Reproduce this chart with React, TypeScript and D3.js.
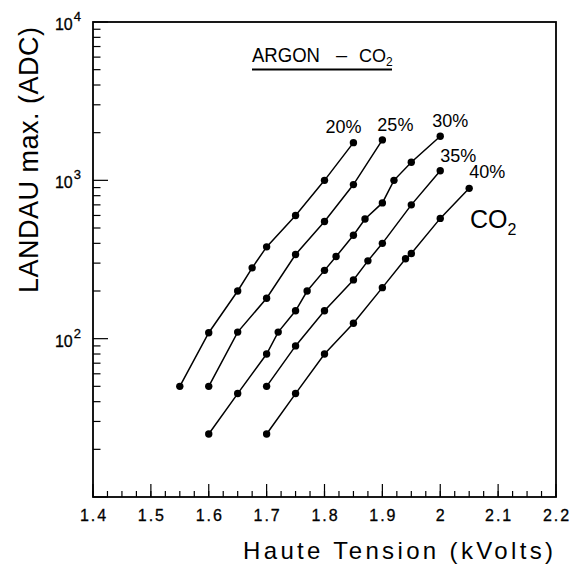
import React from "react";
import * as d3 from "d3";

// ---- data ----
const seriesNames = ["20%", "25%", "30%", "35%", "40%"];
const x20 = [1.55, 1.6, 1.65, 1.675, 1.7, 1.75, 1.8, 1.85];
const y20 = [50, 109, 200, 280, 380, 600, 1000, 1730];
const x25 = [1.6, 1.65, 1.7, 1.75, 1.8, 1.85, 1.9];
const y25 = [50, 110, 180, 340, 550, 940, 1800];
const x30 = [1.6, 1.65, 1.7, 1.72, 1.75, 1.77, 1.8, 1.82, 1.85, 1.87, 1.9, 1.92, 1.95, 2.0];
const y30 = [25, 45, 80, 110, 150, 200, 270, 330, 450, 570, 720, 1000, 1300, 1900];
const x35 = [1.7, 1.75, 1.8, 1.85, 1.875, 1.9, 1.95, 2.0];
const y35 = [50, 90, 150, 235, 310, 400, 700, 1150];
const x40 = [1.7, 1.75, 1.8, 1.85, 1.9, 1.94, 1.95, 2.0, 2.05];
const y40 = [25, 45, 80, 125, 210, 320, 345, 575, 890];
const xTickLabels = ["1.4", "1.5", "1.6", "1.7", "1.8", "1.9", "2", "2.1", "2.2"];
const yDecades = [10, 100, 1000, 10000];
const yLabelExps = ["", "2", "3", "4"];

const xs = [x20, x25, x30, x35, x40];
const ys = [y20, y25, y30, y35, y40];

// label offsets (pixels) from the last point of each series
const labelOffsets: [number, number][] = [
  [-10, -10],
  [13, -9],
  [10, -9],
  [18, -9],
  [18, -10],
];

const W = 570;
const H = 565;
const L = 93, R = 556, T = 22, B = 497;
const FONT = "'Liberation Sans', Arial, Helvetica, sans-serif";

export default function App() {
  const x = d3.scaleLinear().domain([1.4, 2.2]).range([L, R]);
  const y = d3.scaleLog().domain([10, 10000]).range([B, T]);
  const line = d3
    .line<[number, number]>()
    .x((d) => x(d[0]))
    .y((d) => y(d[1]));

  const xMajor = d3.range(0, 9).map((i) => 1.4 + i * 0.1);
  const xMinor = d3.range(0, 33).map((i) => 1.4 + i * 0.025);
  const yMinor: number[] = [];
  yDecades.slice(0, 3).forEach((d) => {
    for (let k = 2; k <= 9; k++) yMinor.push(k * d);
  });

  return (
    <svg
      width={W}
      height={H}
      style={{ position: "absolute", left: 0, top: 0, background: "#fff" }}
      fontFamily={FONT}
    >
      <rect x={0} y={0} width={W} height={H} fill="#fff" />
      {/* ticks */}
      <g stroke="#000" strokeWidth={1.2}>
        {xMinor.map((v, i) => (
          <line key={"xm" + i} x1={x(v)} x2={x(v)} y1={B} y2={B - 6} />
        ))}
        {xMajor.map((v, i) => (
          <line key={"xM" + i} x1={x(v)} x2={x(v)} y1={B} y2={B - 13} />
        ))}
        {yMinor.map((v, i) => (
          <line key={"ym" + i} x1={L} x2={L + 7.5} y1={y(v)} y2={y(v)} />
        ))}
        {yDecades.map((v, i) => (
          <line key={"yM" + i} x1={L} x2={L + 15} y1={y(v)} y2={y(v)} />
        ))}
      </g>
      {/* frame */}
      <rect x={L} y={T} width={R - L} height={B - T} fill="none" stroke="#000" strokeWidth={1.8} />
      {/* x tick labels */}
      {xMajor.map((v, i) => (
        <text
          key={"xl" + i}
          x={x(v) + 1}
          y={520.5}
          fontSize={16}
          letterSpacing={2}
          textAnchor="middle"
          fill="#000"
          stroke="#000"
          strokeWidth={0.3}
        >
          {xTickLabels[i]}
        </text>
      ))}
      {/* y tick labels */}
      {yDecades.map((v, i) =>
        yLabelExps[i] ? (
          <text
            key={"yl" + i}
            x={81}
            y={y(v) + 8}
            fontSize={16}
            textAnchor="end"
            fill="#000"
            stroke="#000"
            strokeWidth={0.3}
          >
            10
            <tspan dx={1} dy={-9} fontSize={13}>
              {yLabelExps[i]}
            </tspan>
          </text>
        ) : null
      )}
      {/* axis titles */}
      <text
        x={553}
        y={559}
        fontSize={24}
        textAnchor="end"
        textLength={310}
        lengthAdjust="spacing"
        fill="#000"
      >
        Haute Tension (kVolts)
      </text>
      <text
        transform={`translate(38,160) rotate(-90)`}
        fontSize={27}
        textAnchor="middle"
        textLength={266}
        lengthAdjust="spacing"
        fill="#000"
      >
        LANDAU max. (ADC)
      </text>
      {/* title */}
      <g fill="#000">
        <text x={252} y={62} fontSize={20} textLength={68} lengthAdjust="spacingAndGlyphs">
          ARGON
        </text>
        <text x={341.5} y={62} fontSize={20} textAnchor="middle">
          –
        </text>
        <text x={359} y={62} fontSize={18}>
          CO
          <tspan dy={4} fontSize={12}>
            2
          </tspan>
        </text>
        <line x1={252} x2={392} y1={69.5} y2={69.5} stroke="#000" strokeWidth={2} />
      </g>
      {/* series */}
      {xs.map((sx, si) => {
        const pts: [number, number][] = sx.map((v, j) => [v, ys[si][j]]);
        const last = pts[pts.length - 1];
        return (
          <g key={"s" + si}>
            <path d={line(pts) || ""} fill="none" stroke="#000" strokeWidth={1.5} />
            {pts.map((p, j) => (
              <circle key={j} cx={x(p[0])} cy={y(p[1])} r={3.7} fill="#000" />
            ))}
            <text
              x={x(last[0]) + labelOffsets[si][0]}
              y={y(last[1]) + labelOffsets[si][1]}
              fontSize={18}
              textAnchor="middle"
              fill="#000"
            >
              {seriesNames[si]}
            </text>
          </g>
        );
      })}
      {/* CO2 annotation */}
      <text x={470} y={228} fontSize={25} fill="#000">
        CO
        <tspan dy={7} fontSize={16}>
          2
        </tspan>
      </text>
    </svg>
  );
}
